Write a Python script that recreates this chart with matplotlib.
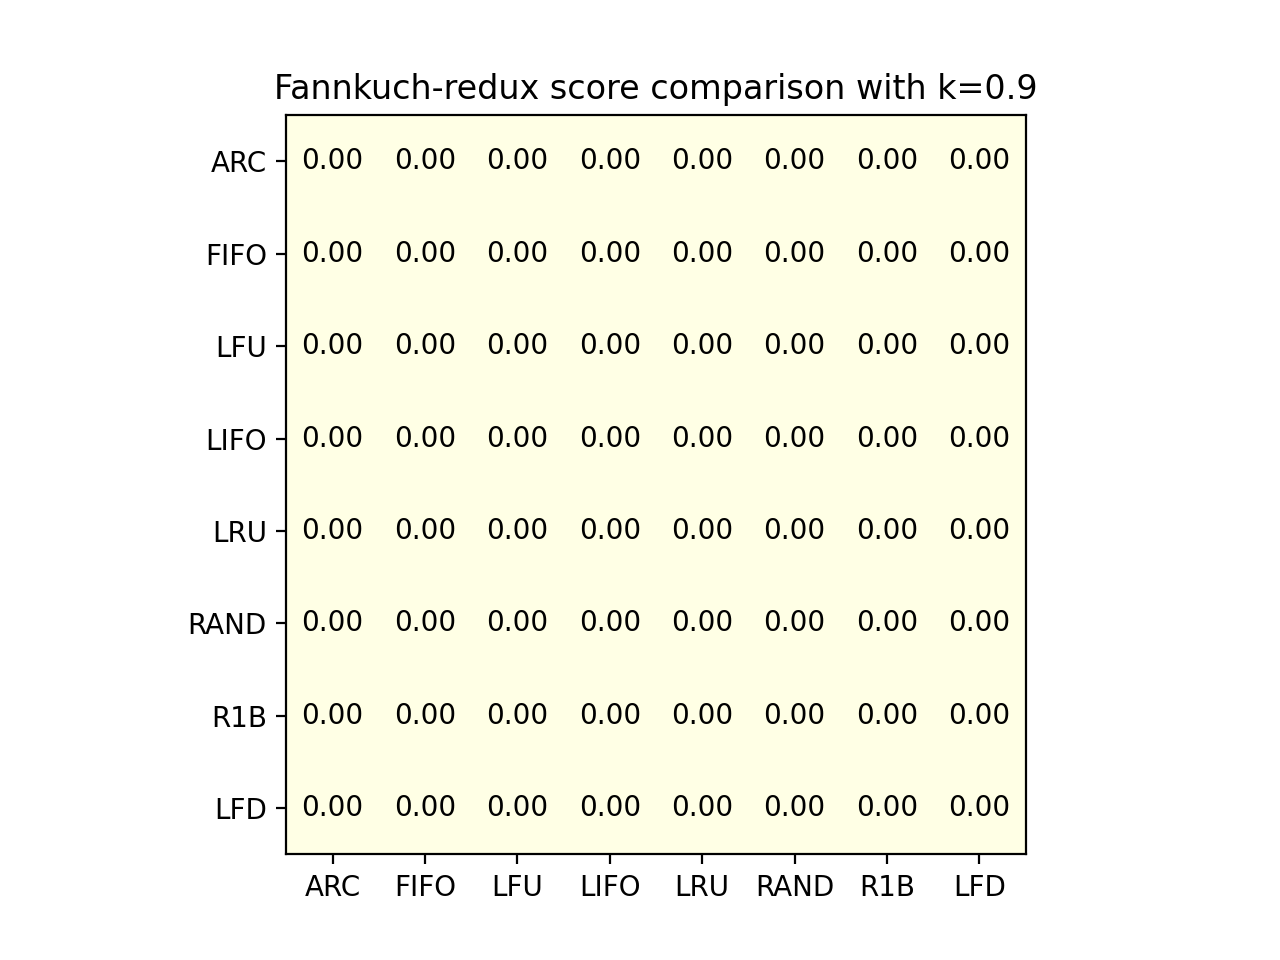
import matplotlib
matplotlib.use('Agg')
import matplotlib.pyplot as plt
import numpy as np

policies = ['ARC', 'FIFO', 'LFU', 'LIFO', 'LRU', 'RAND', 'R1B', 'LFD']
# every pairwise score reads 0.00
scores = np.array([
    [0.00, 0.00, 0.00, 0.00, 0.00, 0.00, 0.00, 0.00],
    [0.00, 0.00, 0.00, 0.00, 0.00, 0.00, 0.00, 0.00],
    [0.00, 0.00, 0.00, 0.00, 0.00, 0.00, 0.00, 0.00],
    [0.00, 0.00, 0.00, 0.00, 0.00, 0.00, 0.00, 0.00],
    [0.00, 0.00, 0.00, 0.00, 0.00, 0.00, 0.00, 0.00],
    [0.00, 0.00, 0.00, 0.00, 0.00, 0.00, 0.00, 0.00],
    [0.00, 0.00, 0.00, 0.00, 0.00, 0.00, 0.00, 0.00],
    [0.00, 0.00, 0.00, 0.00, 0.00, 0.00, 0.00, 0.00],
])

fig, ax = plt.subplots(figsize=(6.4, 4.8), dpi=200)
ax.imshow(scores, cmap='YlOrBr')

ax.set_xticks(np.arange(len(policies)))
ax.set_yticks(np.arange(len(policies)))
ax.set_xticklabels(policies)
ax.set_yticklabels(policies)

for i in range(len(policies)):
    for j in range(len(policies)):
        ax.text(j, i, "%.2f" % scores[i, j], ha='center', va='center', color='k')

ax.set_title("Fannkuch-redux score comparison with k=0.9")
fig.savefig('out.png')
